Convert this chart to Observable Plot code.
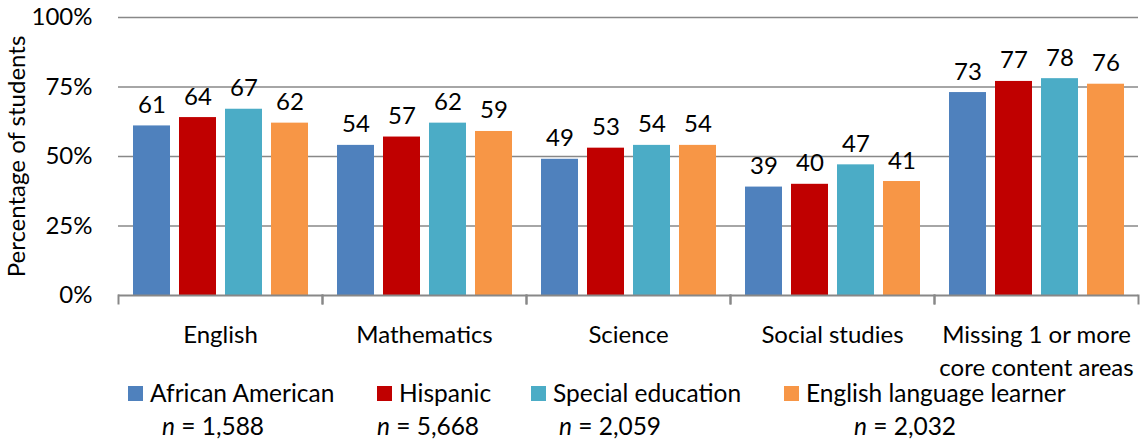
<!DOCTYPE html>
<html>
<head>
<meta charset="utf-8">
<script src="https://cdn.jsdelivr.net/npm/d3@7"></script>
<script src="https://cdn.jsdelivr.net/npm/@observablehq/plot@0.6"></script>
<style>
  html, body { margin: 0; padding: 0; background: #fff; }
  body { font-family: Lato, "Open Sans", sans-serif; color: #000; }
  #chart svg { display: block; }
  #legend { position: relative; width: 1141px; height: 60px; font-size: 24.5px; line-height: 28px; }
  .item { position: absolute; top: -3px; display: flex; align-items: center; white-space: nowrap; }
  .swatch { width: 15px; height: 15px; margin-right: 7px; }
  .count { position: absolute; top: 30px; white-space: nowrap; transform: translateX(-50%); }
  .count i { font-style: italic; }
</style>
</head>
<body>
<div id="chart"></div>
<div id="legend"></div>
<script>
// Content areas (x groups) and student groups (bars within each area)
const categories = ["English", "Mathematics", "Science", "Social studies", "Missing 1 or more\ncore content areas"];
const studentGroups = ["African American", "Hispanic", "Special education", "English language learner"];
const groupCounts = ["1,588", "5,668", "2,059", "2,032"];
const groupColors = ["#4F81BD", "#C00000", "#4BACC6", "#F79646"];

// Percentage of students, one value per content area
const africanAmerican = [61, 54, 49, 39, 73];
const hispanic = [64, 57, 53, 40, 77];
const specialEducation = [67, 62, 54, 47, 78];
const englishLearner = [62, 59, 54, 41, 76];

const yTicks = [0, 25, 50, 75, 100];

const seriesValues = [africanAmerican, hispanic, specialEducation, englishLearner];
const rows = [];
categories.forEach((category, i) => {
  studentGroups.forEach((group, j) => {
    rows.push({category, group, value: seriesValues[j][i]});
  });
});

const gridColor = "#888888";
const fontSize = 24;

const chart = Plot.plot({
  width: 1141,
  height: 382,
  marginLeft: 117,
  marginRight: 3,
  marginTop: 17,
  marginBottom: 87,
  style: {fontFamily: "Lato, 'Open Sans', sans-serif", fontSize: fontSize + "px", color: "#000", background: "#fff"},
  fx: {domain: categories, padding: 0},
  x: {domain: studentGroups, paddingInner: 0.204, paddingOuter: 0.296, axis: null},
  y: {domain: [0, 100]},
  color: {domain: studentGroups, range: groupColors},
  marks: [
    Plot.ruleY(yTicks.filter(d => d > 0), {stroke: gridColor, strokeWidth: 1.5}),
    Plot.barY(rows, {fx: "category", x: "group", y: "value", fill: "group"}),
    Plot.text(rows, {
      fx: "category", x: "group", y: "value", text: d => String(d.value),
      lineAnchor: "bottom", dy: -13, fontSize, fill: "#000"
    }),
    Plot.ruleY([0], {stroke: gridColor, strokeWidth: 2}),
    // short separators between content areas, hanging below the baseline
    Plot.frame({anchor: "left", stroke: gridColor, strokeWidth: 2, insetTop: 278, insetBottom: -8}),
    Plot.frame({anchor: "right", stroke: gridColor, strokeWidth: 2, insetTop: 278, insetBottom: -8}),
    Plot.axisY(yTicks, {
      tickSize: 0, tickPadding: 26, tickFormat: d => d + "%", fontSize,
      label: "Percentage of students", labelAnchor: "center", labelArrow: "none", labelOffset: 111
    }),
    Plot.axisFx({
      anchor: "bottom", tickSize: 0, tickPadding: 24, label: null, fontSize, lineHeight: 1.38
    })
  ]
});
document.getElementById("chart").appendChild(chart);

// Legend below the chart: swatch + group name, and the group size underneath
const legendLayout = [
  {swatchLeft: 128, countCenter: 213},
  {swatchLeft: 377, countCenter: 428},
  {swatchLeft: 531, countCenter: 610},
  {swatchLeft: 784, countCenter: 905}
];
const legend = document.getElementById("legend");
studentGroups.forEach((group, j) => {
  const item = document.createElement("div");
  item.className = "item";
  item.style.left = legendLayout[j].swatchLeft + "px";
  const sw = document.createElement("span");
  sw.className = "swatch";
  sw.style.background = groupColors[j];
  const label = document.createElement("span");
  label.textContent = group;
  item.append(sw, label);
  legend.appendChild(item);

  const count = document.createElement("div");
  count.className = "count";
  count.style.left = legendLayout[j].countCenter + "px";
  const n = document.createElement("i");
  n.textContent = "n";
  count.append(n, document.createTextNode(" = " + groupCounts[j]));
  legend.appendChild(count);
});
</script>
</body>
</html>
